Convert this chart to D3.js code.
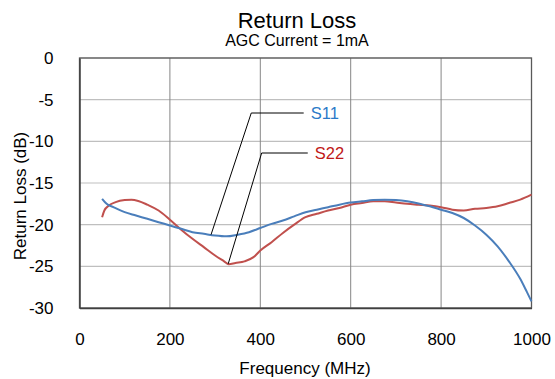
<!DOCTYPE html>
<html>
<head>
<meta charset="utf-8">
<script src="https://cdn.jsdelivr.net/npm/d3@7"></script>
<style>
  body { margin: 0; background: #fff; }
  text { font-family: "Liberation Sans", Arial, sans-serif; }
</style>
</head>
<body>
<svg width="555" height="379"></svg>
<script>
const s11Freq = [50, 60, 75, 100, 125, 150, 175, 200, 225, 250, 275, 300, 325, 350, 375, 400, 425, 450, 475, 500,
  525, 550, 575, 600, 625, 650, 675, 700, 725, 750, 775, 800, 825, 850, 875, 900, 925, 950, 975, 990, 1000]
const s11Db = [-16.9, -17.5, -17.9, -18.5, -18.9, -19.3, -19.7, -20.1, -20.5, -20.9, -21.1, -21.3, -21.4, -21.2, -20.9, -20.4, -19.9, -19.5, -19.0, -18.5,
  -18.2, -17.9, -17.6, -17.35, -17.2, -17.05, -17.0, -17.05, -17.2, -17.45, -17.8, -18.2, -18.6, -19.2, -20.1, -21.2, -22.6, -24.4, -26.5, -28.1, -29.2]

const s22Freq = [50, 55, 65, 80, 100, 115, 130, 150, 175, 200, 225, 250, 275, 300, 320, 330, 345, 365, 385, 400,
  425, 450, 475, 500, 525, 550, 575, 600, 625, 650, 675, 700, 725, 750, 775, 800, 825, 850, 875, 900, 925, 950, 975, 1000]
const s22Db = [-19.1, -18.3, -17.7, -17.3, -17.05, -17.0, -17.15, -17.6, -18.3, -19.4, -20.6, -21.7, -22.7, -23.7, -24.4, -24.75, -24.6, -24.4, -23.9, -23.1,
  -22.1, -21.0, -20.0, -19.1, -18.7, -18.3, -18.0, -17.6, -17.4, -17.2, -17.2, -17.35, -17.5, -17.6, -17.7, -17.9, -18.2, -18.3, -18.1, -18.0, -17.8, -17.4, -17.0, -16.4]

const xTicks = [0, 200, 400, 600, 800, 1000]
const yTicks = [0, -5, -10, -15, -20, -25, -30]

// callouts: point on curve, elbow, end of leader, label
const callouts = [
  {name: "S11", px: 291, py: -21.2, ex: 380, ey: -6.6, lx: 496, color: "#2a7ac8"},
  {name: "S22", px: 329, py: -24.7, ex: 403, ey: -11.4, lx: 505, color: "#c01818"}
]

const width = 555, height = 379
const margin = {top: 58, right: 23.5, bottom: 71, left: 79.5}

const svg = d3.select("svg")

const x = d3.scaleLinear().domain([0, 1000]).range([margin.left, width - margin.right])
const y = d3.scaleLinear().domain([-30, 0]).range([height - margin.bottom, margin.top])

// grid
svg.append("g")
  .selectAll("line")
  .data(yTicks)
  .join("line")
    .attr("x1", x(0)).attr("x2", x(1000))
    .attr("y1", d => y(d)).attr("y2", d => y(d))
    .attr("stroke", "#bfbfbf")
    .attr("stroke-width", 1.2)

svg.append("g")
  .selectAll("line")
  .data(xTicks)
  .join("line")
    .attr("x1", d => x(d)).attr("x2", d => x(d))
    .attr("y1", y(0)).attr("y2", y(-30))
    .attr("stroke", "#868686")
    .attr("stroke-width", 1)

// frame
svg.append("rect")
  .attr("x", x(0)).attr("y", y(0))
  .attr("width", x(1000) - x(0)).attr("height", y(-30) - y(0))
  .attr("fill", "none")
  .attr("stroke", "#595959")
  .attr("stroke-width", 1.3)

// axes
const xAxis = g => g
  .attr("transform", `translate(0,${y(-30)})`)
  .call(d3.axisBottom(x).tickValues(xTicks).tickFormat(d => String(d)).tickSize(0).tickPadding(25))
  .call(g => g.select(".domain").attr("stroke", "#404040").attr("stroke-width", 1.5))
  .call(g => g.selectAll("text").attr("font-size", 17).attr("fill", "#000").attr("font-family", null))

const yAxis = g => g
  .attr("transform", `translate(${x(0)},0)`)
  .call(d3.axisLeft(y).tickValues(yTicks).tickFormat(d => String(d)).tickSize(0).tickPadding(26))
  .call(g => g.select(".domain").attr("stroke", "#404040").attr("stroke-width", 1.5))
  .call(g => g.selectAll("text").attr("font-size", 17).attr("fill", "#000").attr("font-family", null))

svg.append("g").call(xAxis)
svg.append("g").call(yAxis)

// series
const line = d3.line()
  .x(d => x(d[0]))
  .y(d => y(d[1]))
  .curve(d3.curveMonotoneX)

svg.append("path")
  .attr("d", line(d3.zip(s22Freq, s22Db)))
  .attr("fill", "none")
  .attr("stroke", "#c0504d")
  .attr("stroke-width", 2)

svg.append("path")
  .attr("d", line(d3.zip(s11Freq, s11Db)))
  .attr("fill", "none")
  .attr("stroke", "#4a7ebb")
  .attr("stroke-width", 2)

// leaders + labels
const co = svg.append("g")
  .selectAll("g")
  .data(callouts)
  .join("g")

co.append("polyline")
  .attr("points", d => [[x(d.px), y(d.py)], [x(d.ex), y(d.ey)], [x(d.lx), y(d.ey)]].join(" "))
  .attr("fill", "none")
  .attr("stroke", "#000")
  .attr("stroke-width", 1)

co.append("text")
  .attr("x", d => x(d.lx) + 7)
  .attr("y", d => y(d.ey))
  .attr("dy", "0.36em")
  .attr("font-size", 16.5)
  .attr("fill", d => d.color)
  .text(d => d.name)

// titles
svg.append("text")
  .attr("x", 297).attr("y", 27.5)
  .attr("text-anchor", "middle")
  .attr("font-size", 22)
  .text("Return Loss")

svg.append("text")
  .attr("x", 297).attr("y", 45.5)
  .attr("text-anchor", "middle")
  .attr("font-size", 16)
  .text("AGC Current = 1mA")

svg.append("text")
  .attr("x", 305).attr("y", 374)
  .attr("text-anchor", "middle")
  .attr("font-size", 17)
  .text("Frequency (MHz)")

svg.append("text")
  .attr("transform", "translate(26,196) rotate(-90)")
  .attr("text-anchor", "middle")
  .attr("font-size", 17)
  .text("Return Loss (dB)")
</script>
</body>
</html>
